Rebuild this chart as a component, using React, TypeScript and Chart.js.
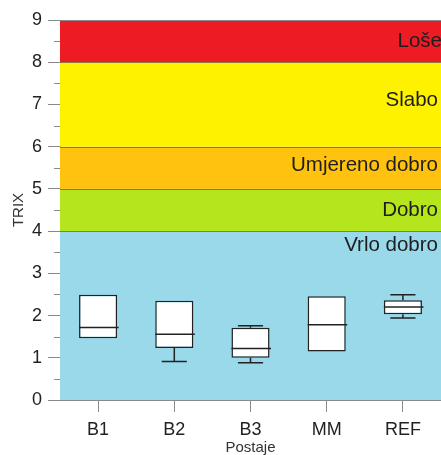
import React, { useEffect, useRef } from 'react';
import { Chart, registerables } from 'chart.js';

Chart.register(...registerables);

// ---- data ----
const stations = ['B1', 'B2', 'B3', 'MM', 'REF'];
const q1 = [1.46, 1.23, 1.0, 1.15, 2.03];
const q3 = [2.49, 2.35, 1.71, 2.46, 2.36];
const medians = [1.72, 1.56, 1.22, 1.78, 2.2];
const whiskerLow = [1.46, 0.91, 0.88, 1.15, 1.94];
const whiskerHigh = [2.49, 2.35, 1.76, 2.46, 2.49];

const bandLow = [0, 4, 5, 6, 8];
const bandHigh = [4, 5, 6, 8, 9];
const bandNames = ['Vrlo dobro', 'Dobro', 'Umjereno dobro', 'Slabo', 'Loše'];
const bandLabelAt = [3.67, 4.5, 5.55, 7.1, 8.5];
const bandColors = ['#99D9EA', '#B5E61D', '#FFC20E', '#FFF200', '#ED1C24'];

const FONT = '"Liberation Sans", Arial, sans-serif';

const bandsPlugin = {
  id: 'bands',
  beforeDatasetsDraw(chart: any) {
    const { ctx, chartArea } = chart;
    const y = chart.scales.y;
    const { left, right } = chartArea;
    ctx.save();
    for (let i = 0; i < bandLow.length; i++) {
      const yTop = y.getPixelForValue(bandHigh[i]);
      const yBot = y.getPixelForValue(bandLow[i]);
      ctx.fillStyle = bandColors[i];
      ctx.fillRect(left, yTop, right - left + 5, yBot - yTop);
    }
    // boundaries
    ctx.strokeStyle = 'rgba(80,80,60,0.65)';
    ctx.lineWidth = 1;
    for (let i = 1; i < bandLow.length; i++) {
      const py = Math.round(y.getPixelForValue(bandLow[i])) + 0.5;
      ctx.beginPath();
      ctx.moveTo(left, py);
      ctx.lineTo(right + 5, py);
      ctx.stroke();
    }
    // top frame
    const pt = Math.round(y.getPixelForValue(9)) + 0.5;
    ctx.strokeStyle = '#8a8a8a';
    ctx.beginPath();
    ctx.moveTo(left, pt);
    ctx.lineTo(right + 5, pt);
    ctx.stroke();
    // labels
    ctx.fillStyle = '#1e1e1e';
    ctx.font = `20.5px ${FONT}`;
    ctx.textAlign = 'right';
    ctx.textBaseline = 'middle';
    for (let i = 0; i < bandNames.length; i++) {
      const xr = bandNames[i] === 'Loše' ? right + 1 : right - 3;
      ctx.fillText(bandNames[i], xr, y.getPixelForValue(bandLabelAt[i]));
    }
    ctx.restore();
  },
  afterDatasetsDraw(chart: any) {
    const { ctx, chartArea } = chart;
    const x = chart.scales.x;
    const y = chart.scales.y;
    const meta = chart.getDatasetMeta(0);
    ctx.save();
    ctx.strokeStyle = '#222';
    ctx.lineWidth = 1.5;
    for (let i = 0; i < stations.length; i++) {
      const xc = x.getPixelForValue(i);
      const bw = meta.data[i] ? meta.data[i].width : 38;
      const half = bw / 2;
      // median
      const pm = y.getPixelForValue(medians[i]);
      ctx.beginPath();
      ctx.moveTo(xc - half, pm);
      ctx.lineTo(xc + half + 1.5, pm);
      ctx.stroke();
      const cap = bw * 0.33;
      if (whiskerLow[i] < q1[i] - 0.001) {
        const a = y.getPixelForValue(q1[i]);
        const b = y.getPixelForValue(whiskerLow[i]);
        ctx.beginPath();
        ctx.moveTo(xc, a);
        ctx.lineTo(xc, b);
        ctx.moveTo(xc - cap, b);
        ctx.lineTo(xc + cap, b);
        ctx.stroke();
      }
      if (whiskerHigh[i] > q3[i] + 0.001) {
        const a = y.getPixelForValue(q3[i]);
        const b = y.getPixelForValue(whiskerHigh[i]);
        ctx.beginPath();
        ctx.moveTo(xc, a);
        ctx.lineTo(xc, b);
        ctx.moveTo(xc - cap, b);
        ctx.lineTo(xc + cap, b);
        ctx.stroke();
      }
    }
    // minor ticks on y axis
    ctx.strokeStyle = '#8a8a8a';
    ctx.lineWidth = 1;
    for (let v = 0.5; v < 9; v += 1) {
      const py = Math.round(y.getPixelForValue(v)) + 0.5;
      ctx.beginPath();
      ctx.moveTo(chartArea.left - 6, py);
      ctx.lineTo(chartArea.left, py);
      ctx.stroke();
    }
    ctx.restore();
  },
};

export default function App() {
  const ref = useRef<HTMLCanvasElement>(null);
  useEffect(() => {
    if (!ref.current) return;
    const chart = new Chart(ref.current, {
      type: 'bar',
      data: {
        labels: stations,
        datasets: [
          {
            data: stations.map((_, i) => [q1[i], q3[i]]) as any,
            backgroundColor: '#ffffff',
            borderColor: '#222',
            borderWidth: 1.5,
            borderSkipped: false,
            categoryPercentage: 1,
            barPercentage: 0.5,
          },
        ],
      },
      options: {
        responsive: false,
        animation: false,
        devicePixelRatio: 1,
        layout: { padding: { top: 20, left: 0, right: 0, bottom: 0 } },
        plugins: { legend: { display: false }, tooltip: { enabled: false } },
        scales: {
          x: {
            offset: true,
            grid: { display: true, drawOnChartArea: false, offset: false, tickLength: 12, color: '#8a8a8a' },
            border: { color: '#8a8a8a' },
            ticks: { color: '#222', font: { family: FONT, size: 18 }, padding: 7 },
            title: {
              display: true,
              text: 'Postaje',
              color: '#333',
              font: { family: FONT, size: 15, lineHeight: 1 },
              padding: { top: 0, bottom: 0 },
            },
            afterFit: (s: any) => {
              s.height = 55;
            },
          },
          y: {
            min: 0,
            max: 9,
            ticks: { stepSize: 1, color: '#222', font: { family: FONT, size: 18 }, padding: 6 },
            grid: { display: true, drawOnChartArea: false, tickLength: 12, color: '#8a8a8a' },
            border: { color: '#8a8a8a' },
            title: {
              display: true,
              text: 'TRIX',
              color: '#333',
              font: { family: FONT, size: 15, lineHeight: 1.2 },
              padding: { top: 10, bottom: 0 },
            },
            afterFit: (s: any) => {
              s.width = 60;
            },
          },
        },
      },
      plugins: [bandsPlugin],
    });
    return () => chart.destroy();
  }, []);
  return (
    <div style={{ position: 'absolute', left: 0, top: 0, width: 441, height: 455, overflow: 'hidden' }}>
      <canvas ref={ref} width={441} height={455} style={{ display: 'block' }} />
    </div>
  );
}
